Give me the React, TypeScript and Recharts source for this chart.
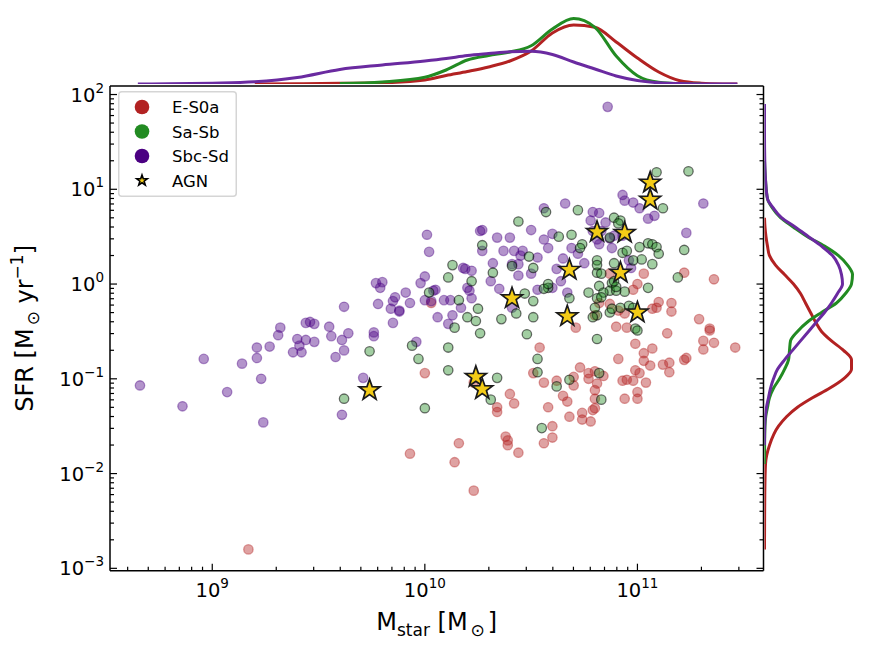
import React from 'react'
import { Legend, Line, LineChart, Scatter, ScatterChart, XAxis, YAxis } from 'recharts'

const W = 872
const H = 652
const PLOT = { left: 110, right: 763.5, top: 86, bottom: 570.7 }
const MASS_DOMAIN: [number, number] = [8.519, 11.593]
const SFR_DOMAIN: [number, number] = [-3.025, 2.09]
const FONT = '"DejaVu Sans", sans-serif'

const RED = '#b22222'
const GREEN = '#228b22'
const INDIGO = '#4b0082'
const PURPLE_LINE = '#6a2aa0'
const GOLD = '#f4cc16'

// [log10 Mstar, log10 SFR] per morphological class
const earlyTypes: [number, number][] = [
  [9.17, -2.8], [9.93, -1.79], [10.0, -0.94], [10.03, -0.2], [10.16, -1.68], [10.14, -1.88],
  [10.23, -2.18], [10.34, -1.3], [10.34, -1.35], [10.38, -1.61], [10.39, -1.65], [10.39, -1.7],
  [10.44, -1.78], [10.4, -1.16], [10.42, -1.26], [10.54, -0.67], [10.56, -1.04], [10.51, -0.94],
  [10.58, -1.3], [10.56, -1.68], [10.6, -1.5], [10.6, -1.62], [10.62, -1.02], [10.65, -1.18],
  [10.67, -1.24], [10.7, -0.98], [10.7, -1.07], [10.68, -1.4], [10.73, -0.88], [10.77, -0.94],
  [10.77, -1.0], [10.8, -0.92], [10.81, -1.05], [10.84, -0.97], [10.8, -1.12], [10.8, -1.21],
  [10.8, -1.31], [10.79, -1.33], [10.74, -1.36], [10.74, -1.43], [10.78, -1.45], [10.71, -0.46],
  [10.9, -0.45], [10.95, -0.46], [11.14, -0.52], [11.34, -0.49], [11.31, -0.6], [11.36, -0.62],
  [11.46, -0.67], [11.31, -0.69], [10.99, -0.63], [11.07, -0.68], [11.03, -0.73], [11.03, -0.81],
  [11.06, -0.86], [10.91, -0.79], [10.93, -1.02], [10.95, -1.01], [10.98, -1.02], [10.99, -0.91],
  [11.01, -0.94], [11.04, -1.04], [11.0, -1.14], [11.0, -1.21], [10.94, -1.21], [11.12, -0.85],
  [11.15, -0.83], [11.15, -0.93], [11.22, -0.8], [11.23, -0.78], [11.03, 0.11], [11.22, 0.12],
  [11.36, 0.05], [10.98, -0.06], [11.0, 0.0], [10.87, 0.11], [10.82, -0.2], [10.87, -0.21],
  [10.91, -0.28], [11.1, -0.19], [11.16, -0.2], [11.16, -0.29], [11.09, -0.25], [11.07, -0.26],
  [11.29, -0.37], [11.34, -0.47], [10.8, -0.33], [10.94, -0.31], [10.23, -1.04],
]

const earlySpirals: [number, number][] = [
  [9.74, -0.71], [9.62, -1.21], [9.94, -0.65], [9.97, -0.79], [10.0, -1.31], [10.11, -0.91],
  [10.11, -0.67], [10.02, -0.09], [10.11, 0.07], [10.13, 0.2], [10.16, -0.17], [10.14, -0.46],
  [10.2, -0.35], [10.24, -0.39], [10.25, -0.26], [10.22, 0.03], [10.26, -0.52], [10.36, -0.37],
  [10.43, -0.31], [10.51, -0.35], [10.48, -0.53], [10.81, -0.33], [10.81, -0.58], [10.87, -0.3],
  [10.92, -0.25], [10.96, -0.23], [10.99, -0.47], [11.0, -0.49], [10.53, -0.79], [10.53, -0.93],
  [10.34, -0.99], [10.31, -1.22], [10.62, -1.08], [10.68, -1.01], [10.82, -0.94], [10.83, -1.22],
  [10.55, -1.52], [11.09, 1.18], [11.24, 1.19], [11.12, 0.8], [10.72, 0.78], [10.57, 0.76],
  [10.44, 0.66], [10.89, 0.7], [10.92, 0.67], [10.87, 0.49], [10.91, 0.64], [10.63, 0.5],
  [10.69, 0.52], [10.27, 0.41], [10.32, 0.12], [10.51, 0.17], [10.58, -0.04], [10.74, 0.42],
  [10.73, 0.38], [10.81, 0.25], [10.81, 0.12], [10.83, 0.11], [10.89, 0.22], [10.93, 0.33],
  [10.95, 0.35], [11.01, 0.39], [11.05, 0.43], [11.07, 0.42], [11.09, 0.39], [11.1, 0.32],
  [11.07, 0.21], [11.02, 0.26], [10.98, 0.25], [11.22, 0.36], [11.19, 0.07], [11.05, -0.04],
  [10.94, -0.08], [10.88, 0.01], [10.87, -0.07], [10.82, -0.02], [10.77, -0.09], [10.84, -0.09],
  [10.9, -0.07], [10.88, -0.26], [10.81, -0.15], [10.68, -0.15], [10.51, -0.18], [10.47, -0.1],
  [10.56, -0.05], [10.79, -0.35], [10.49, 0.29], [10.41, 0.19], [10.81, 0.2], [10.9, -0.03],
  [10.89, 0.03], [10.83, -0.14], [10.8, -0.25], [10.98, -0.25], [10.58, 0.0],
]

const lateSpirals: [number, number][] = [
  [8.66, -1.07], [8.86, -1.29], [8.96, -0.79], [9.07, -1.14], [9.14, -0.84], [9.21, -0.78],
  [9.21, -0.67], [9.23, -1.0], [9.24, -1.46], [9.27, -0.66], [9.31, -0.54], [9.32, -0.46],
  [9.38, -0.72], [9.4, -0.58], [9.41, -0.65], [9.42, -0.72], [9.44, -0.59], [9.44, -0.41],
  [9.46, -0.4], [9.48, -0.42], [9.48, -0.61], [9.55, -0.45], [9.56, -0.55], [9.58, -0.77],
  [9.61, -0.59], [9.62, -0.7], [9.64, -0.52], [9.62, -0.24], [9.71, -0.99], [9.61, -1.38],
  [9.76, -0.51], [9.76, -0.55], [9.77, 0.01], [9.8, 0.02], [9.79, -0.04], [9.78, -0.21],
  [9.85, -0.18], [9.86, -0.14], [9.84, -0.26], [9.85, -0.41], [9.88, -0.29], [9.91, -0.09],
  [9.93, -0.2], [9.96, -0.61], [9.98, 0.01], [10.0, 0.08], [10.01, 0.52], [10.02, 0.34],
  [10.05, -0.06], [10.0, -0.17], [10.03, -0.18], [10.06, -0.35], [10.09, -0.17], [10.12, -0.17],
  [10.11, -0.42], [10.13, -0.33], [10.17, -0.25], [10.18, 0.17], [10.19, 0.16], [10.22, 0.14],
  [10.2, -0.04], [10.22, -0.15], [10.26, 0.56], [10.27, 0.57], [10.34, 0.49], [10.4, 0.49],
  [10.37, 0.35], [10.42, 0.35], [10.46, 0.35], [10.45, 0.3], [10.41, 0.21], [10.44, 0.21],
  [10.32, 0.22], [10.27, 0.35], [10.44, 0.09], [10.5, 0.11], [10.53, 0.28], [10.58, 0.38],
  [10.56, 0.47], [10.6, 0.53], [10.65, 0.27], [10.62, 0.16], [10.69, 0.38], [10.72, 0.32],
  [10.75, 0.22], [10.66, 0.85], [10.56, 0.8], [10.5, 0.57], [10.79, 0.76], [10.82, 0.75],
  [10.78, 0.67], [10.79, 0.56], [10.85, 0.65], [10.83, 0.56], [10.87, 0.48], [10.88, 0.38],
  [10.93, 0.51], [10.93, 0.94], [10.94, 0.88], [10.98, 0.86], [11.01, 0.8], [11.05, 0.69],
  [11.08, 0.72], [11.23, 0.54], [11.31, 0.85], [10.86, 1.87], [10.67, -0.09], [10.6, -0.04],
  [10.53, -0.06], [10.21, -0.07], [10.35, -0.05], [10.41, -0.25], [10.96, 0.25], [10.97, 0.17],
  [9.88, -0.28], [10.04, -0.07], [10.64, 0.03], [10.82, 0.42], [10.81, 0.47], [10.31, 0.03],
  [10.89, 0.51],
]

const agnHosts: [number, number][] = [
  [11.06, 1.07], [11.06, 0.89], [10.81, 0.55], [10.94, 0.54], [10.68, 0.15], [10.92, 0.12],
  [10.41, -0.15], [10.67, -0.34], [11.0, -0.3], [9.74, -1.12], [10.24, -0.98], [10.27, -1.11],
]

// marginal densities (arbitrary units)
const kdeMassGrid = [
  8.65, 8.8, 9.0, 9.2, 9.4, 9.6, 9.8, 10.0, 10.1, 10.2, 10.3, 10.4, 10.5, 10.6, 10.7, 10.8,
  10.9, 11.0, 11.1, 11.2, 11.3, 11.4, 11.47,
]
const kdeMassEarly = [
  null, null, null, 0, 0.003, 0.007, 0.012, 0.04, 0.085, 0.125, 0.17, 0.23, 0.33, 0.51, 0.59,
  0.567, 0.42, 0.26, 0.12, 0.033, 0.008, 0.001, 0,
]
const kdeMassSaSb = [
  null, null, null, null, null, 0.004, 0.02, 0.067, 0.14, 0.24, 0.285, 0.32, 0.383, 0.55, 0.655,
  0.567, 0.28, 0.083, 0.017, 0.003, 0, null, null,
]
const kdeMassSbcSd = [
  0, 0.002, 0.008, 0.022, 0.065, 0.145, 0.19, 0.23, 0.255, 0.285, 0.305, 0.323, 0.327, 0.295,
  0.22, 0.15, 0.08, 0.035, 0.012, 0.004, 0.001, 0, 0,
]

const kdeSfrGrid = [
  1.9, 1.6, 1.3, 1.1, 0.9, 0.8, 0.7, 0.6, 0.5, 0.4, 0.3, 0.2, 0.1, 0.0, -0.1, -0.2, -0.3, -0.4,
  -0.5, -0.6, -0.7, -0.8, -0.9, -1.0, -1.1, -1.2, -1.3, -1.4, -1.5, -1.7, -1.9, -2.2, -2.5, -2.8,
]
const kdeSfrEarly = [
  null, null, null, null, null, null, 0, 0.005, 0.015, 0.03, 0.05, 0.11, 0.2, 0.29, 0.36, 0.41,
  0.46, 0.51, 0.57, 0.67, 0.79, 0.87, 0.87, 0.79, 0.65, 0.48, 0.33, 0.22, 0.14, 0.05, 0.01,
  0.003, 0.001, 0,
]
const kdeSfrSaSb = [
  null, null, 0, 0.01, 0.03, 0.08, 0.16, 0.29, 0.43, 0.6, 0.74, 0.83, 0.88, 0.87, 0.81, 0.72,
  0.57, 0.43, 0.33, 0.26, 0.25, 0.24, 0.2, 0.15, 0.09, 0.05, 0.03, 0.012, 0.005, 0.001, 0, null,
  null, null,
]
const kdeSfrSbcSd = [
  0, 0, 0.003, 0.01, 0.03, 0.09, 0.17, 0.31, 0.44, 0.57, 0.68, 0.74, 0.77, 0.78, 0.73, 0.67,
  0.6, 0.52, 0.44, 0.36, 0.28, 0.2, 0.13, 0.09, 0.06, 0.04, 0.02, 0.008, 0.002, 0, null, null,
  null, null,
]

const massMajor = [9, 10, 11]
const sfrMajor = [-3, -2, -1, 0, 1, 2]

// decade ticks plus the 2..9 minor ticks that fall inside the domain
const logTicks = (majors: number[], [lo, hi]: [number, number]) => {
  const out: number[] = []
  for (let d = Math.floor(lo) - 1; d <= Math.ceil(hi); d++) {
    for (let k = 1; k < 10; k++) {
      const v = d + Math.log10(k)
      if (v >= lo && v <= hi) out.push(v)
    }
  }
  return out.concat(majors.filter((m) => !out.includes(m))).sort((a, b) => a - b)
}
const massTicks = logTicks(massMajor, MASS_DOMAIN)
const sfrTicks = logTicks(sfrMajor, SFR_DOMAIN)

const toPoints = (rows: [number, number][]) => rows.map(([m, sfr]) => ({ m, sfr }))
const topRows = kdeMassGrid.map((m, i) => ({
  m,
  early: kdeMassEarly[i],
  saSb: kdeMassSaSb[i],
  sbcSd: kdeMassSbcSd[i],
}))
const sideRows = kdeSfrGrid.map((sfr, i) => ({
  sfr,
  early: kdeSfrEarly[i],
  saSb: kdeSfrSaSb[i],
  sbcSd: kdeSfrSbcSd[i],
}))

const isMajor = (v: number) => Math.abs(v - Math.round(v)) < 1e-6
const exponent = (v: number) => {
  const n = Math.round(v)
  return n < 0 ? `\u2212${-n}` : `${n}`
}

type Side = 'bottom' | 'top' | 'left' | 'right'

function LogTick(props: any & { side: Side }) {
  const { x, y, payload, side } = props
  const v = payload.value as number
  const major = isMajor(v)
  const len = major ? 7 : 4
  const line =
    side === 'bottom' ? [x, y, x, y - len]
    : side === 'top' ? [x, y, x, y + len]
    : side === 'left' ? [x, y, x + len, y]
    : [x, y, x - len, y]
  return (
    <g>
      <line x1={line[0]} y1={line[1]} x2={line[2]} y2={line[3]} stroke="#000" strokeWidth={1.2} />
      {major && side === 'bottom' && (
        <text x={x} y={y + 26} textAnchor="middle" fontSize={19.5} fontFamily={FONT} fill="#000">
          10<tspan dy={-9} fontSize={13.5}>{exponent(v)}</tspan>
        </text>
      )}
      {major && side === 'left' && (
        <text x={x - 6} y={y + 7} textAnchor="end" fontSize={19.5} fontFamily={FONT} fill="#000">
          10<tspan dy={-9} fontSize={13.5}>{exponent(v)}</tspan>
        </text>
      )}
    </g>
  )
}

const circleShape = (fill: string, stroke: string, strokeOpacity: number) => (p: any) => (
  <circle
    cx={p.cx}
    cy={p.cy}
    r={4.7}
    fill={fill}
    fillOpacity={0.42}
    stroke={stroke}
    strokeOpacity={strokeOpacity}
    strokeWidth={1.3}
  />
)

const starPoints = (cx: number, cy: number, r: number) => {
  const pts: string[] = []
  for (let k = 0; k < 10; k++) {
    const rr = k % 2 === 0 ? r : r * 0.4
    const a = -Math.PI / 2 + (k * Math.PI) / 5
    pts.push(`${cx + rr * Math.cos(a)},${cy + rr * Math.sin(a)}`)
  }
  return pts.join(' ')
}

const StarShape = (p: any) => (
  <polygon points={starPoints(p.cx, p.cy, 11)} fill={GOLD} stroke="#1a1a1a" strokeWidth={1.7} />
)

const legendItems = [
  { label: 'E-S0a', color: RED },
  { label: 'Sa-Sb', color: GREEN },
  { label: 'Sbc-Sd', color: INDIGO },
  { label: 'AGN', color: '' },
]

function LegendBox() {
  return (
    <svg width={119} height={106} style={{ display: 'block' }}>
      <rect x={0.75} y={0.75} width={117.5} height={104.5} rx={3} fill="#fff" fillOpacity={0.8} stroke="#d5d5d5" strokeWidth={1.5} />
      {legendItems.map((item, i) => {
        const cy = 16 + i * 24.5
        return (
          <g key={item.label}>
            {item.color ? (
              <circle cx={24} cy={cy} r={7.3} fill={item.color} />
            ) : (
              <polygon points={starPoints(24, cy, 5.6)} fill={GOLD} stroke="#000" strokeWidth={1.6} />
            )}
            <text x={54} y={cy + 6} fontSize={16.5} fontFamily={FONT} fill="#000">
              {item.label}
            </text>
          </g>
        )
      })}
    </svg>
  )
}

const spine = { stroke: '#000', strokeWidth: 1.5 }

export default function App() {
  const xLabelX = (PLOT.left + PLOT.right) / 2
  const yLabelY = (PLOT.top + PLOT.bottom) / 2
  return (
    <div style={{ position: 'fixed', left: 0, top: 0, width: W, height: H, background: '#fff', fontFamily: FONT }}>
      <div style={{ position: 'absolute', left: 0, top: 0 }}>
        <ScatterChart
          width={W}
          height={H}
          margin={{ top: PLOT.top - 10, right: W - PLOT.right - 10, bottom: H - PLOT.bottom - 40, left: PLOT.left - 60 }}
        >
          <XAxis
            xAxisId="b"
            type="number"
            dataKey="m"
            domain={MASS_DOMAIN}
            allowDataOverflow
            ticks={massTicks}
            interval={0}
            tickSize={0}
            tickMargin={0}
            tickLine={false}
            axisLine={spine}
            height={40}
            tick={(p: any) => <LogTick {...p} side="bottom" />}
            label={{
              content: () => (
                <text x={xLabelX} y={630} textAnchor="middle" fontSize={24} fontFamily={FONT} fill="#000">
                  M<tspan dy={6} fontSize={17}>star</tspan>
                  <tspan dy={-6}> [M</tspan>
                  <tspan dy={6} dx={3} fontSize={17}>{'\u2299'}</tspan>
                  <tspan dy={-6} dx={3}>]</tspan>
                </text>
              ),
            }}
          />
          <XAxis
            xAxisId="t"
            orientation="top"
            type="number"
            domain={MASS_DOMAIN}
            allowDataOverflow
            ticks={massTicks}
            interval={0}
            tickSize={0}
            tickMargin={0}
            tickLine={false}
            axisLine={spine}
            height={10}
            tick={(p: any) => <LogTick {...p} side="top" />}
          />
          <YAxis
            yAxisId="l"
            type="number"
            dataKey="sfr"
            domain={SFR_DOMAIN}
            allowDataOverflow
            ticks={sfrTicks}
            interval={0}
            tickSize={0}
            tickMargin={0}
            tickLine={false}
            axisLine={spine}
            width={60}
            tick={(p: any) => <LogTick {...p} side="left" />}
            label={{
              content: () => (
                <text
                  transform={`translate(33,${yLabelY}) rotate(-90)`}
                  textAnchor="middle"
                  fontSize={24}
                  fontFamily={FONT}
                  fill="#000"
                >
                  SFR [M<tspan dy={6} dx={3} fontSize={17}>{'\u2299'}</tspan>
                  <tspan dy={-6}> yr</tspan>
                  <tspan dy={-10} fontSize={17}>{'\u22121'}</tspan>
                  <tspan dy={10}>]</tspan>
                </text>
              ),
            }}
          />
          <YAxis
            yAxisId="r"
            orientation="right"
            type="number"
            domain={SFR_DOMAIN}
            allowDataOverflow
            ticks={sfrTicks}
            interval={0}
            tickSize={0}
            tickMargin={0}
            tickLine={false}
            axisLine={spine}
            width={10}
            tick={(p: any) => <LogTick {...p} side="right" />}
          />
          <Legend
            layout="vertical"
            align="center"
            verticalAlign="middle"
            content={() => <LegendBox />}
            wrapperStyle={{ left: 118, top: 91, width: 119, height: 106 }}
          />
          <Scatter
            name="E-S0a"
            xAxisId="b"
            yAxisId="l"
            data={toPoints(earlyTypes)}
            shape={circleShape(RED, RED, 0.42)}
            isAnimationActive={false}
          />
          <Scatter
            name="Sbc-Sd"
            xAxisId="b"
            yAxisId="l"
            data={toPoints(lateSpirals)}
            shape={circleShape(INDIGO, INDIGO, 0.42)}
            isAnimationActive={false}
          />
          <Scatter
            name="Sa-Sb"
            xAxisId="b"
            yAxisId="l"
            data={toPoints(earlySpirals)}
            shape={circleShape(GREEN, '#000', 0.55)}
            isAnimationActive={false}
          />
          <Scatter
            name="AGN"
            xAxisId="b"
            yAxisId="l"
            data={toPoints(agnHosts)}
            shape={StarShape}
            isAnimationActive={false}
          />
        </ScatterChart>
      </div>

      <div style={{ position: 'absolute', left: 0, top: 0 }}>
        <LineChart width={W} height={100} data={topRows} margin={{ top: 15, right: W - PLOT.right, bottom: 16, left: PLOT.left }}>
          <XAxis hide type="number" dataKey="m" domain={MASS_DOMAIN} allowDataOverflow />
          <YAxis hide type="number" domain={[0, 0.69]} allowDataOverflow />
          <Line dataKey="early" type="monotone" stroke={RED} strokeWidth={3} dot={false} isAnimationActive={false} />
          <Line dataKey="saSb" type="monotone" stroke={GREEN} strokeWidth={3} dot={false} isAnimationActive={false} />
          <Line dataKey="sbcSd" type="monotone" stroke={PURPLE_LINE} strokeWidth={3} dot={false} isAnimationActive={false} />
        </LineChart>
      </div>

      <div style={{ position: 'absolute', left: 760, top: 0 }}>
        <LineChart
          layout="vertical"
          width={112}
          height={H}
          data={sideRows}
          margin={{ top: PLOT.top, right: 11.5, bottom: H - PLOT.bottom, left: 4.5 }}
        >
          <XAxis hide type="number" domain={[0, 0.96]} allowDataOverflow />
          <YAxis hide reversed type="number" dataKey="sfr" domain={SFR_DOMAIN} allowDataOverflow />
          <Line dataKey="early" type="monotone" stroke={RED} strokeWidth={3} dot={false} isAnimationActive={false} />
          <Line dataKey="saSb" type="monotone" stroke={GREEN} strokeWidth={3} dot={false} isAnimationActive={false} />
          <Line dataKey="sbcSd" type="monotone" stroke={PURPLE_LINE} strokeWidth={3} dot={false} isAnimationActive={false} />
        </LineChart>
      </div>
    </div>
  )
}
